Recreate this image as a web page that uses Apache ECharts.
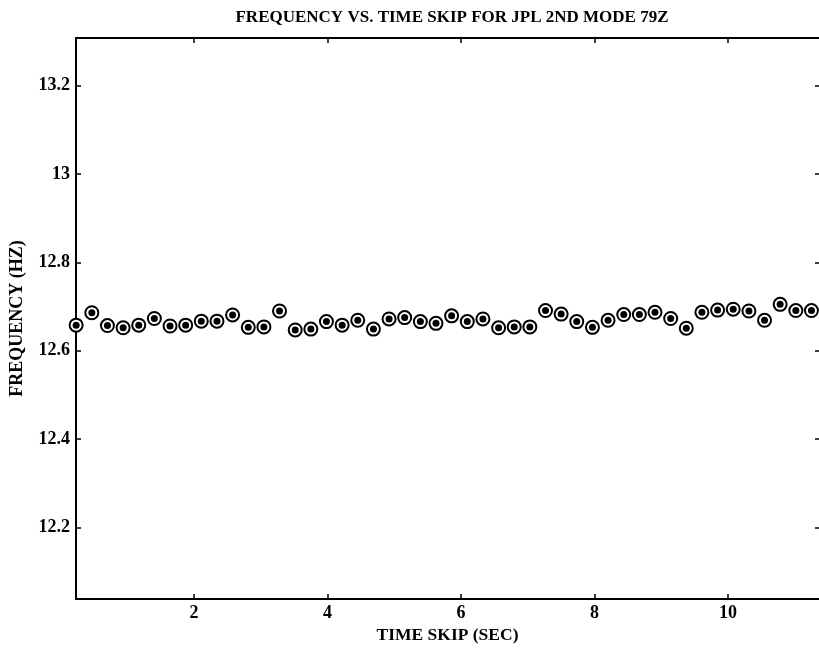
<!DOCTYPE html>
<html>
<head>
<meta charset="utf-8">
<script src="https://cdn.jsdelivr.net/npm/echarts@6/dist/echarts.min.js"></script>
<style>
  html, body { margin: 0; padding: 0; background: #fff; }
  #chart { width: 819px; height: 650px; }
</style>
</head>
<body>
<div id="chart"></div>
<script>
// time skip (sec)
var timeSkip = [0.234, 0.469, 0.703, 0.938, 1.172, 1.406, 1.641, 1.875, 2.109, 2.344,
  2.578, 2.813, 3.047, 3.281, 3.516, 3.750, 3.984, 4.219, 4.453, 4.688,
  4.922, 5.156, 5.391, 5.625, 5.859, 6.094, 6.328, 6.563, 6.797, 7.031,
  7.266, 7.500, 7.734, 7.969, 8.203, 8.438, 8.672, 8.906, 9.141, 9.375,
  9.609, 9.844, 10.078, 10.313, 10.547, 10.781, 11.016, 11.250];
// frequency (hz)
var frequency = [12.658, 12.686, 12.657, 12.652, 12.658, 12.673, 12.656, 12.658, 12.667, 12.667,
  12.681, 12.653, 12.654, 12.690, 12.647, 12.649, 12.666, 12.658, 12.669, 12.649,
  12.672, 12.675, 12.666, 12.662, 12.679, 12.666, 12.672, 12.652, 12.654, 12.654,
  12.691, 12.683, 12.666, 12.653, 12.669, 12.682, 12.682, 12.687, 12.673, 12.651,
  12.687, 12.692, 12.694, 12.690, 12.669, 12.705, 12.691, 12.691];
var xTicks = [2, 4, 6, 8, 10];
var yTicks = [12.2, 12.4, 12.6, 12.8, 13, 13.2];

var points = timeSkip.map(function (t, i) { return [t, frequency[i]]; });

var font = 'Liberation Serif';
var lineStyle = { color: '#000', width: 2 };
var tickStyle = { color: '#000', width: 1.5 };

var chart = echarts.init(document.getElementById('chart'));

var option = {
  backgroundColor: '#fff',
  animation: false,
  title: {
    text: 'FREQUENCY VS. TIME SKIP FOR JPL 2ND MODE 79Z',
    left: 447, top: 4, textAlign: 'center',
    textStyle: { fontFamily: font, fontWeight: 'bold', fontSize: 17, color: '#000' }
  },
  grid: { left: 76, right: 0, top: 38, bottom: 51 },
  xAxis: [{
    type: 'value', min: 0.232, max: 11.363,
    name: 'TIME SKIP (SEC)', nameLocation: 'middle', nameGap: 24,
    nameTextStyle: { fontFamily: font, fontWeight: 'bold', fontSize: 17.5, color: '#000' },
    axisLine: { lineStyle: lineStyle },
    axisTick: { inside: true, length: 5, customValues: xTicks, lineStyle: tickStyle },
    axisLabel: { customValues: xTicks, margin: 5, fontFamily: font, fontWeight: 'bold', fontSize: 18, color: '#000' },
    splitLine: { show: false }
  }, {
    type: 'value', position: 'top', min: 0.232, max: 11.363,
    axisLine: { lineStyle: lineStyle },
    axisTick: { inside: true, length: 5, customValues: xTicks, lineStyle: tickStyle },
    axisLabel: { show: false },
    splitLine: { show: false }
  }],
  yAxis: [{
    type: 'value', min: 12.038, max: 13.308,
    name: 'FREQUENCY (HZ)', nameLocation: 'middle', nameGap: 50, nameRotate: 90,
    nameTextStyle: { fontFamily: font, fontWeight: 'bold', fontSize: 18, color: '#000' },
    axisLine: { lineStyle: lineStyle },
    axisTick: { inside: true, length: 5, customValues: yTicks, lineStyle: tickStyle },
    axisLabel: { customValues: yTicks, margin: 6, fontFamily: font, fontWeight: 'bold', fontSize: 18, color: '#000' },
    splitLine: { show: false }
  }, {
    // right edge is cut off in the scan, only the ticks show
    type: 'value', position: 'right', min: 12.038, max: 13.308,
    axisLine: { show: false },
    axisTick: { inside: true, length: 4, customValues: yTicks, lineStyle: tickStyle },
    axisLabel: { show: false },
    splitLine: { show: false }
  }],
  series: [{
    // outer ring
    type: 'scatter', data: points, symbol: 'circle', symbolSize: 13,
    itemStyle: { color: '#fff', borderColor: '#000', borderWidth: 2, opacity: 1 }
  }, {
    // filled centre
    type: 'scatter', data: points, symbol: 'circle', symbolSize: 7,
    itemStyle: { color: '#000', opacity: 1 }
  }]
};

chart.setOption(option);
</script>
</body>
</html>
